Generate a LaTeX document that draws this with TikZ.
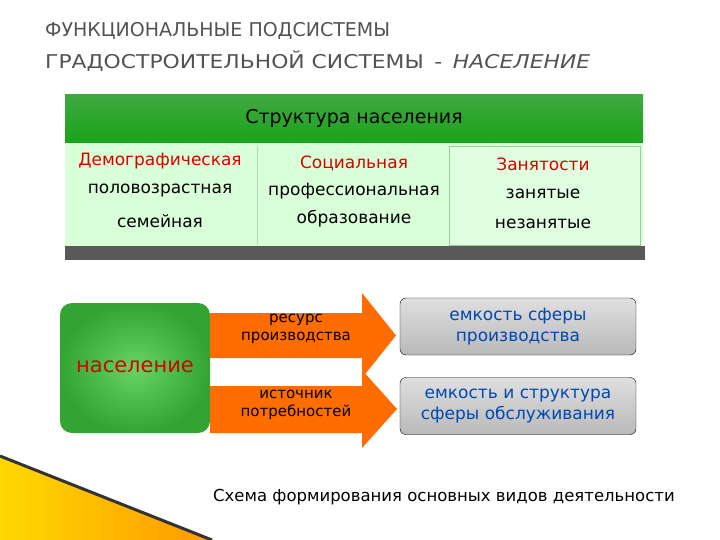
\documentclass[tikz,border=0pt]{standalone}
\usepackage{fontspec}
\setmainfont{DejaVu Sans}
\begin{document}
\begin{tikzpicture}[x=1pt,y=-1pt,
  red txt/.style={text=red!85!black},
  arr/.style={fill=orange!85!red, draw=none},
  gbox/.style={rounded corners=6pt, draw=black, top color=gray!25, bottom color=gray!55, text=blue!60!cyan!70!black, align=center, font=\fontsize{17}{21}\selectfont, minimum width=236pt, minimum height=57pt, inner sep=0pt},
  coltxt/.style={font=\fontsize{17}{20}\selectfont, anchor=center}]
\useasboundingbox (0,0) rectangle (720,540);
\fill[white] (0,0) rectangle (720,540);
% title
\node[anchor=west, text=gray!65!black, font=\fontsize{19}{22}\selectfont, inner sep=0pt] (t1) at (45,31) {ФУНКЦИОНАЛЬНЫЕ ПОДСИСТЕМЫ};
\node[anchor=west, text=gray!65!black, font=\fontsize{19}{22}\selectfont, inner sep=0pt, xscale=1.15] (t2) at (45,61) {ГРАДОСТРОИТЕЛЬНОЙ СИСТЕМЫ \,-\, \textit{НАСЕЛЕНИЕ}};
% structure table
\fill[green!15!white] (65,143) rectangle (643,248);
\fill[gray!70!black] (65,246) rectangle (645,260);
\node[draw=green!50!black!40, fill=green!12!white, minimum width=191pt, minimum height=99pt, inner sep=0pt] (c3box) at (545,196) {};
\draw[green!50!black!30] (257,146) -- (257,245);
\fill[top color=green!55!black!75, bottom color=green!60!black!90] (65,95) rectangle (643,143);
\node[font=\fontsize{19}{22}\selectfont] (hdr) at (354,118) {Структура населения};
\node[coltxt, red txt] (a1) at (160,161) {Демографическая};
\node[coltxt] (a2) at (160,191) {половозрастная};
\node[coltxt] (a3) at (160,221) {семейная};
\node[coltxt, red txt] (b1) at (354,163) {Социальная};
\node[coltxt] (b2) at (354,191) {профессиональная};
\node[coltxt] (b3) at (354,219) {образование};
\node[coltxt, red txt] (d1) at (543,164) {Занятости};
\node[coltxt] (d2) at (543,194) {занятые};
\node[coltxt] (d3) at (543,224) {незанятые};
% population box
\node[rounded corners=12pt, inner color=green!50!black!55!green!60, outer color=green!55!black!80, minimum width=150pt, minimum height=130pt] (pop) at (135,368) {};
\node[red txt, font=\fontsize{21}{24}\selectfont] (poptxt) at (135,367) {население};
% arrows
\fill[arr] (210,313) -- (362,313) -- (362,293) -- (396,335.5) -- (362,378) -- (362,358) -- (210,358) -- cycle;
\fill[arr] (210,386) -- (362,386) -- (362,370) -- (397,409) -- (362,448) -- (362,433) -- (210,433) -- cycle;
\node[align=center, font=\fontsize{15}{18}\selectfont] (r1) at (296,329) {ресурс\\производства};
\node[align=center, font=\fontsize{15}{18}\selectfont] (r2) at (296,405) {источник\\потребностей};
\node[gbox] (g1) at (518,326.5) {емкость сферы\\производства};
\node[gbox] (g2) at (518,406) {емкость и структура\\сферы обслуживания};
% decoration
\fill[left color=yellow!70!orange, right color=orange!80!yellow] (0,456) -- (212,540) -- (0,540) -- cycle;
\draw[line width=3pt, black!80] (0,456) -- (212,540);
\node[anchor=west, font=\fontsize{16.5}{19}\selectfont, inner sep=0pt] (cap) at (213,497) {Схема формирования основных видов деятельности};
\end{tikzpicture}
\end{document}
